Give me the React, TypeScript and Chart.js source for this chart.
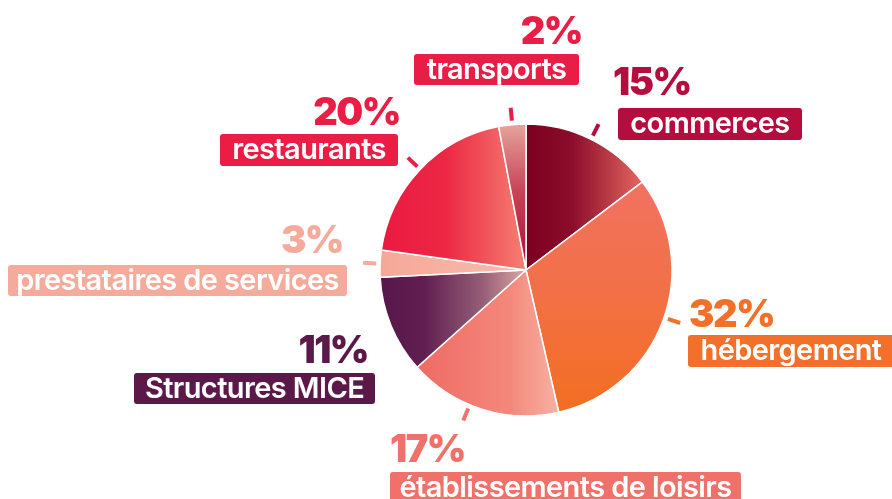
import React, { useEffect, useRef } from "react";
import { Chart, registerables } from "chart.js";

Chart.register(...registerables);

// ---- data ----
const categories = [
  "commerces",
  "hébergement",
  "établissements de loisirs",
  "Structures MICE",
  "prestataires de services",
  "restaurants",
  "transports",
];
const shares = [14.7, 31.7, 17.0, 10.8, 3.0, 19.8, 3.0];
const percentLabels = ["15%", "32%", "17%", "11%", "3%", "20%", "2%"];

// ---- styles ----
const labelColors = ["#b50d3e", "#f2702a", "#f0716a", "#5b1949", "#f5ab9c", "#eb1d44", "#e81e46"];
const gradientDirs = ["h", "v", "h", "h", "h", "h", "v"];
const gradientStops: [number, string][][] = [
  [[0, "#7c0020"], [0.4, "#8c0d2b"], [1, "#e4665f"]],
  [[0, "#f17262"], [0.45, "#f27048"], [1, "#f36e22"]],
  [[0, "#ee6b63"], [0.65, "#f4877b"], [1, "#f7b1a2"]],
  [[0, "#57174a"], [0.3, "#611f51"], [0.7, "#955e76"], [1, "#dda6a2"]],
  [[0, "#f5a898"], [1, "#f8bcad"]],
  [[0, "#eb1a40"], [0.45, "#ec2845"], [1, "#f58073"]],
  [[0, "#e6a49b"], [0.45, "#c94458"], [1, "#b30836"]],
];

// label layout (annotation placement)
type Lay = {
  side: "left" | "right";
  pctX: number;
  pctY: number;
  boxL: number;
  boxR: number;
  boxT: number;
  boxH: number;
  tick: boolean;
  tickShift: number;
};
const labelLayout: Lay[] = [
  { side: "right", pctX: 613, pctY: 95, boxL: 618, boxR: 802, boxT: 108, boxH: 32, tick: true, tickShift: 0 },
  { side: "right", pctX: 689, pctY: 327, boxL: 688, boxR: 894, boxT: 335, boxH: 32, tick: true, tickShift: -1 },
  { side: "right", pctX: 390, pctY: 462, boxL: 390, boxR: 741, boxT: 472, boxH: 32, tick: true, tickShift: 5 },
  { side: "left", pctX: 368, pctY: 363, boxL: 134, boxR: 375, boxT: 373, boxH: 31, tick: false, tickShift: 0 },
  { side: "left", pctX: 343, pctY: 253, boxL: 8, boxR: 347, boxT: 265, boxH: 31, tick: true, tickShift: 0 },
  { side: "left", pctX: 400, pctY: 125, boxL: 220, boxR: 398, boxT: 134, boxH: 32, tick: true, tickShift: 0 },
  { side: "left", pctX: 582, pctY: 44, boxL: 414, boxR: 579, boxT: 54, boxH: 31, tick: true, tickShift: 0 },
];

const PCT_FONT = "900 38px Inter";
const NAME_FONT = "600 29px Inter";
const RADIUS = 146;

function sliceGradient(ctx: any) {
  const chart = ctx.chart;
  const area = chart.chartArea;
  const i = ctx.dataIndex;
  if (!area) return labelColors[i];
  const cx = (area.left + area.right) / 2;
  const cy = (area.top + area.bottom) / 2;
  const total = shares.reduce((a, b) => a + b, 0);
  let cum = 0;
  for (let k = 0; k < i; k++) cum += shares[k];
  const a0 = (cum / total) * Math.PI * 2 - Math.PI / 2;
  const a1 = ((cum + shares[i]) / total) * Math.PI * 2 - Math.PI / 2;
  let minX = cx, maxX = cx, minY = cy, maxY = cy;
  for (let s = 0; s <= 60; s++) {
    const a = a0 + ((a1 - a0) * s) / 60;
    const x = cx + RADIUS * Math.cos(a);
    const y = cy + RADIUS * Math.sin(a);
    minX = Math.min(minX, x); maxX = Math.max(maxX, x);
    minY = Math.min(minY, y); maxY = Math.max(maxY, y);
  }
  const c = chart.ctx as CanvasRenderingContext2D;
  const g = gradientDirs[i] === "h"
    ? c.createLinearGradient(minX, 0, maxX, 0)
    : c.createLinearGradient(0, minY, 0, maxY);
  gradientStops[i].forEach(([o, col]) => g.addColorStop(o, col));
  return g;
}

const labelPlugin = {
  id: "sliceLabels",
  afterDatasetsDraw(chart: any) {
    const ctx = chart.ctx as CanvasRenderingContext2D;
    const meta = chart.getDatasetMeta(0);
    meta.data.forEach((arc: any, i: number) => {
      const lay = labelLayout[i];
      const col = labelColors[i];
      const { x, y, startAngle, endAngle, outerRadius } = arc.getProps(
        ["x", "y", "startAngle", "endAngle", "outerRadius"],
        true
      );
      ctx.save();
      // tick
      if (lay.tick) {
        const a = (startAngle + endAngle) / 2 + (lay.tickShift * Math.PI) / 180;
        ctx.strokeStyle = col;
        ctx.lineWidth = 4;
        ctx.beginPath();
        ctx.moveTo(x + (outerRadius + 4) * Math.cos(a), y + (outerRadius + 4) * Math.sin(a));
        ctx.lineTo(x + (outerRadius + 17) * Math.cos(a), y + (outerRadius + 17) * Math.sin(a));
        ctx.stroke();
      }
      // percent
      ctx.fillStyle = col;
      ctx.font = PCT_FONT;
      (ctx as any).letterSpacing = "-1.5px";
      ctx.textBaseline = "alphabetic";
      ctx.textAlign = lay.side === "left" ? "right" : "left";
      ctx.fillText(percentLabels[i], lay.pctX, lay.pctY);
      // box
      (ctx as any).letterSpacing = "-0.6px";
      ctx.fillStyle = col;
      ctx.beginPath();
      (ctx as any).roundRect(lay.boxL, lay.boxT, lay.boxR - lay.boxL, lay.boxH, 3);
      ctx.fill();
      ctx.fillStyle = "#ffffff";
      ctx.font = NAME_FONT;
      ctx.textAlign = "center";
      ctx.fillText(categories[i], (lay.boxL + lay.boxR) / 2, lay.boxT + 25);
      ctx.restore();
    });
  },
};

export default function App() {
  const ref = useRef<HTMLCanvasElement>(null);
  useEffect(() => {
    if (!ref.current) return;
    const chart = new Chart(ref.current, {
      type: "pie",
      data: {
        labels: categories,
        datasets: [
          {
            data: shares,
            backgroundColor: sliceGradient as any,
            borderColor: "#ffffff",
            borderWidth: 1.5,
          },
        ],
      },
      options: {
        responsive: false,
        animation: false,
        radius: RADIUS,
        layout: { padding: { left: 380, right: 220, top: 124, bottom: 83 } },
        plugins: {
          legend: { display: false },
          tooltip: { enabled: false },
        },
      } as any,
      plugins: [labelPlugin],
    });
    return () => chart.destroy();
  }, []);
  return (
    <div style={{ position: "absolute", left: 0, top: 0, width: 892, height: 499, background: "#fff" }}>
      <canvas ref={ref} width={892} height={499} />
    </div>
  );
}
